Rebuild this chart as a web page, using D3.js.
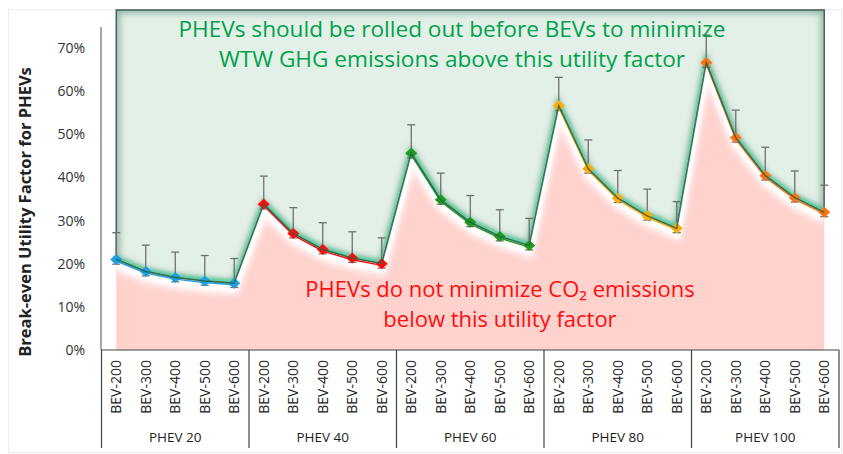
<!DOCTYPE html>
<html>
<head>
<meta charset="utf-8">
<script src="https://cdn.jsdelivr.net/npm/d3@7"></script>
<style>
body{margin:0;background:#fff}
text{font-family:"Open Sans",sans-serif}
</style>
</head>
<body>
<svg id="chart" width="843" height="454"></svg>
<script>
// groups on the x axis and the BEV ranges inside each group
var groups = ["PHEV 20","PHEV 40","PHEV 60","PHEV 80","PHEV 100"]
var bevs = ["BEV-200","BEV-300","BEV-400","BEV-500","BEV-600"]
var groupColors = ["#1a9fe0","#ff0a0a","#1e9a1e","#ffab00","#ff7312"]

// break-even utility factor, one row per PHEV group
var breakEven = [
    [0.210,0.182,0.168,0.160,0.155],
    [0.338,0.270,0.233,0.213,0.200],
    [0.456,0.348,0.296,0.263,0.242],
    [0.566,0.420,0.352,0.311,0.282],
    [0.666,0.492,0.404,0.353,0.319]
]
// error bar ends
var errHigh = [
    [0.272,0.243,0.227,0.219,0.212],
    [0.403,0.330,0.295,0.274,0.260],
    [0.522,0.410,0.358,0.325,0.305],
    [0.632,0.487,0.416,0.373,0.344],
    [0.730,0.556,0.470,0.415,0.382]
]
var errLow = [
    [0.199,0.172,0.158,0.150,0.145],
    [0.327,0.260,0.223,0.203,0.190],
    [0.445,0.338,0.286,0.253,0.232],
    [0.555,0.410,0.342,0.301,0.272],
    [0.655,0.482,0.394,0.343,0.309]
]
var yTicks = [0,0.1,0.2,0.3,0.4,0.5,0.6,0.7]

var svg = d3.select("#chart")
var plotTop = 10

var data = []
groups.forEach(function(g,gi){
    bevs.forEach(function(b,bi){
        data.push({key:g+"|"+b, group:gi, bev:b, v:breakEven[gi][bi], hi:errHigh[gi][bi], lo:errLow[gi][bi]})
    })
})

var x = d3.scaleBand().domain(data.map(function(d){return d.key})).range([101.5,839]).padding(0)
var bw = x.bandwidth()
function cx(d){ return x(d.key)+bw/2 }
var y = d3.scaleLinear().domain([0,0.7]).range([350,48])

var defs = svg.append("defs")
defs.append("filter").attr("id","blur3").attr("x","-20%").attr("y","-20%").attr("width","140%").attr("height","140%")
    .append("feGaussianBlur").attr("stdDeviation",3)
defs.append("filter").attr("id","blur2").attr("x","-20%").attr("y","-20%").attr("width","140%").attr("height","140%")
    .append("feGaussianBlur").attr("stdDeviation",1.5)

var pinkArea = d3.area().x(cx).y0(y(0)).y1(function(d){return y(d.v)})
var greenArea = d3.area().x(cx).y0(plotTop).y1(function(d){return y(d.v)})
var line = d3.line().x(cx).y(function(d){return y(d.v)})

defs.append("clipPath").attr("id","clipGreen").append("path").attr("d",greenArea(data))
defs.append("clipPath").attr("id","clipPink").append("path").attr("d",pinkArea(data))

// faint outer frame
svg.append("rect").attr("x",8.5).attr("y",9.5).attr("width",833).attr("height",443)
    .attr("fill","none").attr("stroke","#ececec")

// areas
svg.append("path").attr("d",pinkArea(data)).attr("fill","#ffd2ce")
svg.append("path").attr("d",greenArea(data)).attr("fill","#e3f0e8")

// inner shadow on the green region border
svg.append("g").attr("clip-path","url(#clipGreen)")
    .append("path").attr("d",greenArea(data)).attr("fill","none")
    .attr("stroke","#3f7a60").attr("stroke-width",7).attr("opacity",0.5).attr("filter","url(#blur3)")
svg.append("path").attr("d",greenArea(data)).attr("fill","none")
    .attr("stroke","#3d5e50").attr("stroke-width",1.4)

// green glow above the line
svg.append("g").attr("clip-path","url(#clipGreen)")
    .append("path").attr("d",line(data)).attr("fill","none")
    .attr("stroke","#2fd08e").attr("stroke-width",4.5).attr("opacity",0.6)
    .attr("filter","url(#blur2)").attr("transform","translate(0,-1.5)")

// white glow below the line
var wg = svg.append("g").attr("clip-path","url(#clipPink)")
wg.append("path").attr("d",line(data)).attr("fill","none")
    .attr("stroke","#ffffff").attr("stroke-width",7)
    .attr("filter","url(#blur2)").attr("transform","translate(0,4.5)")
wg.append("path").attr("d",line(data)).attr("fill","none")
    .attr("stroke","#ffffff").attr("stroke-width",10).attr("opacity",0.8)
    .attr("filter","url(#blur3)").attr("transform","translate(0,7)")

// thin coloured line per group
groups.forEach(function(g,gi){
    svg.append("path").attr("d",line(data.filter(function(d){return d.group==gi})))
        .attr("fill","none").attr("stroke",groupColors[gi]).attr("stroke-width",1.4)
        .attr("transform","translate(0,1.6)")
})

// error bars
var eb = svg.append("g").attr("stroke","#707070").attr("stroke-width",1.3)
eb.selectAll(".ev").data(data).enter().append("line")
    .attr("x1",cx).attr("x2",cx)
    .attr("y1",function(d){return y(d.hi)}).attr("y2",function(d){return y(d.lo)})
eb.selectAll(".eh").data(data).enter().append("line")
    .attr("x1",function(d){return cx(d)-4}).attr("x2",function(d){return cx(d)+4})
    .attr("y1",function(d){return y(d.hi)}).attr("y2",function(d){return y(d.hi)})
eb.selectAll(".el").data(data).enter().append("line")
    .attr("x1",function(d){return cx(d)-4}).attr("x2",function(d){return cx(d)+4})
    .attr("y1",function(d){return y(d.lo)}).attr("y2",function(d){return y(d.lo)})

// markers
svg.selectAll(".mk").data(data).enter().append("path")
    .attr("d","M0,-5.5L6,0L0,5.5L-6,0Z")
    .attr("transform",function(d){return "translate("+cx(d)+","+y(d.v)+")"})
    .attr("fill",function(d){return groupColors[d.group]})

// main line
svg.append("path").attr("d",line(data)).attr("fill","none")
    .attr("stroke","#2b6148").attr("stroke-width",1.5).attr("opacity",0.85)

// y axis
var yAxis = svg.append("g").attr("transform","translate(101,0)")
    .call(d3.axisLeft(y).tickValues(yTicks).tickFormat(d3.format(".0%")).tickSize(0).tickPadding(16))
yAxis.select(".domain").remove()
yAxis.selectAll("text").attr("font-size",14).attr("fill","#333").attr("font-family","Open Sans")
svg.append("line").attr("x1",101).attr("x2",101).attr("y1",27).attr("y2",350)
    .attr("stroke","#8a8a8a").attr("stroke-width",1.5)

svg.append("text").attr("transform","translate(31,212) rotate(-90)")
    .attr("text-anchor","middle").attr("font-size",16.5).attr("font-weight","bold").attr("fill","#222")
    .text("Break-even Utility Factor for PHEVs")

// x axis: two-level category box
var xa = svg.append("g").attr("stroke","#444").attr("stroke-width",1.2)
xa.append("line").attr("x1",101).attr("x2",839).attr("y1",350).attr("y2",350)
var bounds = groups.map(function(g){return x(g+"|"+bevs[0])})
bounds.push(x.range()[1])
xa.selectAll(".gb").data(bounds).enter().append("line")
    .attr("x1",function(d){return d}).attr("x2",function(d){return d})
    .attr("y1",350).attr("y2",448)

svg.selectAll(".bl").data(data).enter().append("text")
    .attr("transform",function(d){return "translate("+cx(d)+",360) rotate(-90)"})
    .attr("text-anchor","end").attr("dy","0.35em").attr("font-size",14).attr("fill","#222")
    .text(function(d){return d.bev})

svg.selectAll(".gl").data(groups).enter().append("text")
    .attr("x",function(g,i){return (bounds[i]+bounds[i+1])/2}).attr("y",442)
    .attr("text-anchor","middle").attr("font-size",13.5).attr("fill","#222")
    .text(function(g){return g})

// annotations
var gText = svg.append("text").attr("text-anchor","middle").attr("font-size",22.6).attr("fill","#00a14b")
gText.append("tspan").attr("x",452).attr("y",37).text("PHEVs should be rolled out before BEVs to minimize")
gText.append("tspan").attr("x",452).attr("y",67).text("WTW GHG emissions above this utility factor")

var rText = svg.append("text").attr("text-anchor","middle").attr("font-size",22).attr("fill","#ff0d0d")
rText.append("tspan").attr("x",500).attr("y",297).text("PHEVs do not minimize CO\u2082 emissions")
rText.append("tspan").attr("x",500).attr("y",327).text("below this utility factor")
</script>
</body>
</html>
